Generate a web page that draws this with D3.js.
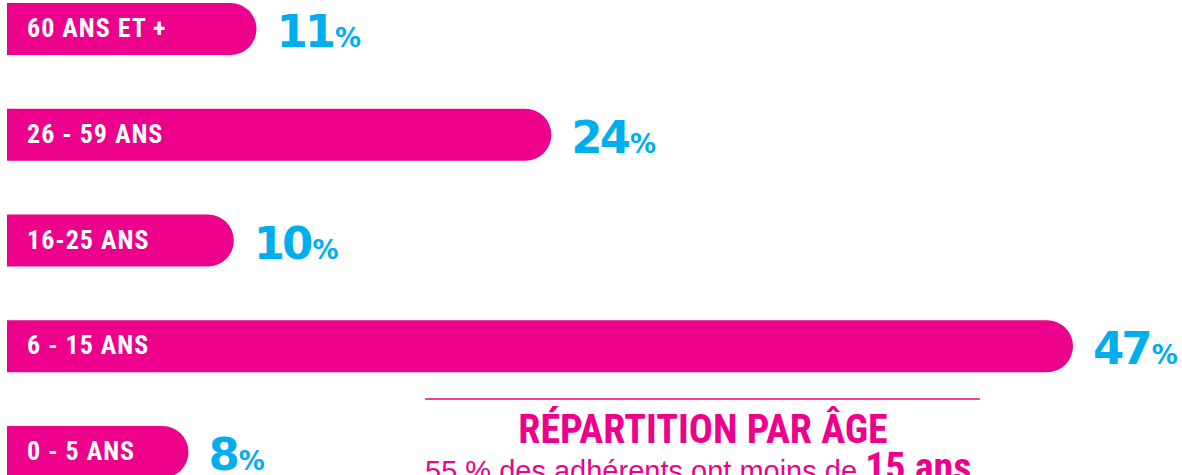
<!DOCTYPE html>
<html>
<head>
<meta charset="utf-8">
<script src="https://cdn.jsdelivr.net/npm/d3@7"></script>
<style>
  body { margin: 0; background: #fff; overflow: hidden; }
</style>
</head>
<body>
<div id="chart"></div>
<script>
// data
const categories = ['60 ANS ET +', '26 - 59 ANS', '16-25 ANS', '6 - 15 ANS', '0 - 5 ANS'];
const values = [11, 24, 10, 47, 8];
const title = 'RÉPARTITION PAR ÂGE';
const subtitle = '55 % des adhérents ont moins de';
const subtitleBold = '15 ans';

const pink = '#ec008c';
const blue = '#00aeef';
const width = 1182, height = 475;

const svg = d3.select('#chart').append('svg')
  .attr('width', width)
  .attr('height', height);

const xScale = d3.scaleLinear()
  .domain([0, 47])
  .range([7, 1073]);

const yScale = d3.scaleBand()
  .domain(categories)
  .range([3, 478])
  .paddingInner(0.508)
  .paddingOuter(0);

// bar with flat left end and round right end
function barPath(x0, x1, y, h) {
  const r = h / 2;
  return `M${x0},${y}H${x1 - r}A${r},${r} 0 0 1 ${x1 - r},${y + h}H${x0}Z`;
}

const data = categories.map((c, i) => ({ cat: c, val: values[i] }));

svg.selectAll('.bar')
  .data(data)
  .enter()
  .append('path')
  .attr('class', 'bar')
  .attr('fill', pink)
  .attr('d', d => barPath(xScale(0), xScale(d.val), yScale(d.cat), yScale.bandwidth()));

svg.selectAll('.cat')
  .data(data)
  .enter()
  .append('text')
  .attr('class', 'cat')
  .attr('x', 27)
  .attr('y', d => yScale(d.cat) + yScale.bandwidth() / 2 + 8)
  .attr('fill', '#fff')
  .attr('letter-spacing', 1)
  .style('font-family', '"Liberation Sans Narrow", "Roboto Condensed", "Arial Narrow", sans-serif')
  .style('font-weight', 'bold')
  .style('font-size', '26px')
  .text(d => d.cat);

const vals = svg.selectAll('.val')
  .data(data)
  .enter()
  .append('text')
  .attr('class', 'val')
  .attr('x', d => xScale(d.val) + 20)
  .attr('y', d => yScale(d.cat) + yScale.bandwidth() / 2 + 18)
  .attr('fill', blue)
  .style('font-family', '"DejaVu Sans", sans-serif')
  .style('font-weight', 'bold');

vals.append('tspan')
  .style('font-size', '45px')
  .attr('letter-spacing', '-3')
  .text(d => d.val);

vals.append('tspan')
  .attr('dx', 2)
  .style('font-size', '26px')
  .text('%');

// title block
svg.append('line')
  .attr('x1', 425).attr('x2', 980)
  .attr('y1', 399).attr('y2', 399)
  .attr('stroke', pink)
  .attr('stroke-width', 1.5);

svg.append('text')
  .attr('x', 703)
  .attr('y', 443)
  .attr('text-anchor', 'middle')
  .attr('fill', pink)
  .style('font-family', '"Liberation Sans Narrow", "Roboto Condensed", sans-serif')
  .style('font-weight', 'bold')
  .style('font-size', '40px')
  .text(title);

const sub = svg.append('text')
  .attr('x', 425)
  .attr('y', 481)
  .attr('fill', pink)
  .style('font-family', '"Liberation Sans", sans-serif');

sub.append('tspan')
  .style('font-size', '29px')
  .text(subtitle + ' ');

sub.append('tspan')
  .style('font-family', '"Liberation Sans Narrow", "Roboto Condensed", sans-serif')
  .style('font-weight', 'bold')
  .style('font-size', '40px')
  .text(subtitleBold);
</script>
</body>
</html>
